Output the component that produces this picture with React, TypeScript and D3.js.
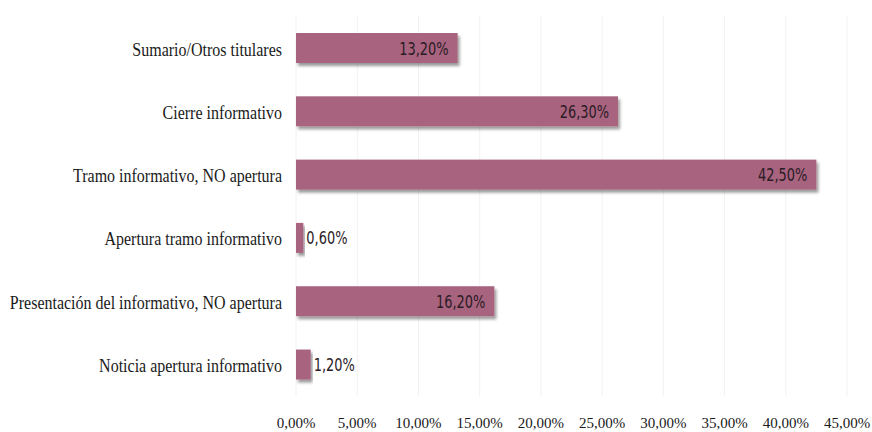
import React from "react";
import * as d3 from "d3";

const categories = [
  "Sumario/Otros titulares",
  "Cierre informativo",
  "Tramo informativo, NO apertura",
  "Apertura tramo informativo",
  "Presentación del informativo, NO apertura",
  "Noticia apertura informativo",
];
const values = [13.2, 26.3, 42.5, 0.6, 16.2, 1.2];
const tickValues = [0, 5, 10, 15, 20, 25, 30, 35, 40, 45];

const W = 872;
const H = 432;

const fmt = (v: number) => v.toFixed(2).replace(".", ",") + "%";

export default function App() {
  const x = d3.scaleLinear().domain([0, 45]).range([296, 847]);
  const y = d3
    .scaleBand<string>()
    .domain(categories)
    .range([16.35, 396.2])
    .paddingInner(0.526)
    .paddingOuter(0.263);
  const bw = y.bandwidth();
  const valFont = "'DejaVu Sans Condensed', 'DejaVu Sans', sans-serif";
  const serif = "'Liberation Serif', 'Times New Roman', serif";
  return (
    <svg
      width={W}
      height={H}
      style={{ position: "absolute", left: 0, top: 0, background: "#fff" }}
    >
      <defs>
        <filter id="sh" x="-5%" y="-30%" width="115%" height="180%">
          <feGaussianBlur in="SourceAlpha" stdDeviation="1.8" />
          <feOffset dx="1.5" dy="2.5" result="b" />
          <feComponentTransfer>
            <feFuncA type="linear" slope="0.4" />
          </feComponentTransfer>
          <feMerge>
            <feMergeNode />
            <feMergeNode in="SourceGraphic" />
          </feMerge>
        </filter>
      </defs>
      {tickValues.map((t) => (
        <line
          key={t}
          x1={x(t)}
          x2={x(t)}
          y1={16}
          y2={396}
          stroke="#f2f2f2"
          strokeWidth={1}
        />
      ))}
      {categories.map((c, i) => {
        const v = values[i];
        const inside = v > 5;
        const x1 = x(v);
        const yy = y(c)!;
        const cy = yy + bw / 2;
        return (
          <g key={c}>
            <rect
              x={x(0)}
              y={yy}
              width={x1 - x(0)}
              height={bw}
              fill="#a8647f"
              filter="url(#sh)"
            />
            <text
              transform={`translate(${inside ? x1 - 9 : x1 + 3},${cy + 6.5}) scale(0.8,1)`}
              textAnchor={inside ? "end" : "start"}
              fontFamily={valFont}
              fontSize={18}
              fill="#2b1b25"
            >
              {fmt(v)}
            </text>
            <text
              transform={`translate(${x(0) - 14},${cy + 7.5}) scale(0.82,1)`}
              textAnchor="end"
              fontFamily={serif}
              fontSize={19.5}
              fill="#1a1a1a"
            >
              {c}
            </text>
          </g>
        );
      })}
      {tickValues.map((t) => (
        <text
          key={t}
          x={x(t)}
          y={428}
          textAnchor="middle"
          fontFamily={serif}
          fontSize={15}
          fill="#1a1a1a"
        >
          {fmt(t)}
        </text>
      ))}
    </svg>
  );
}
